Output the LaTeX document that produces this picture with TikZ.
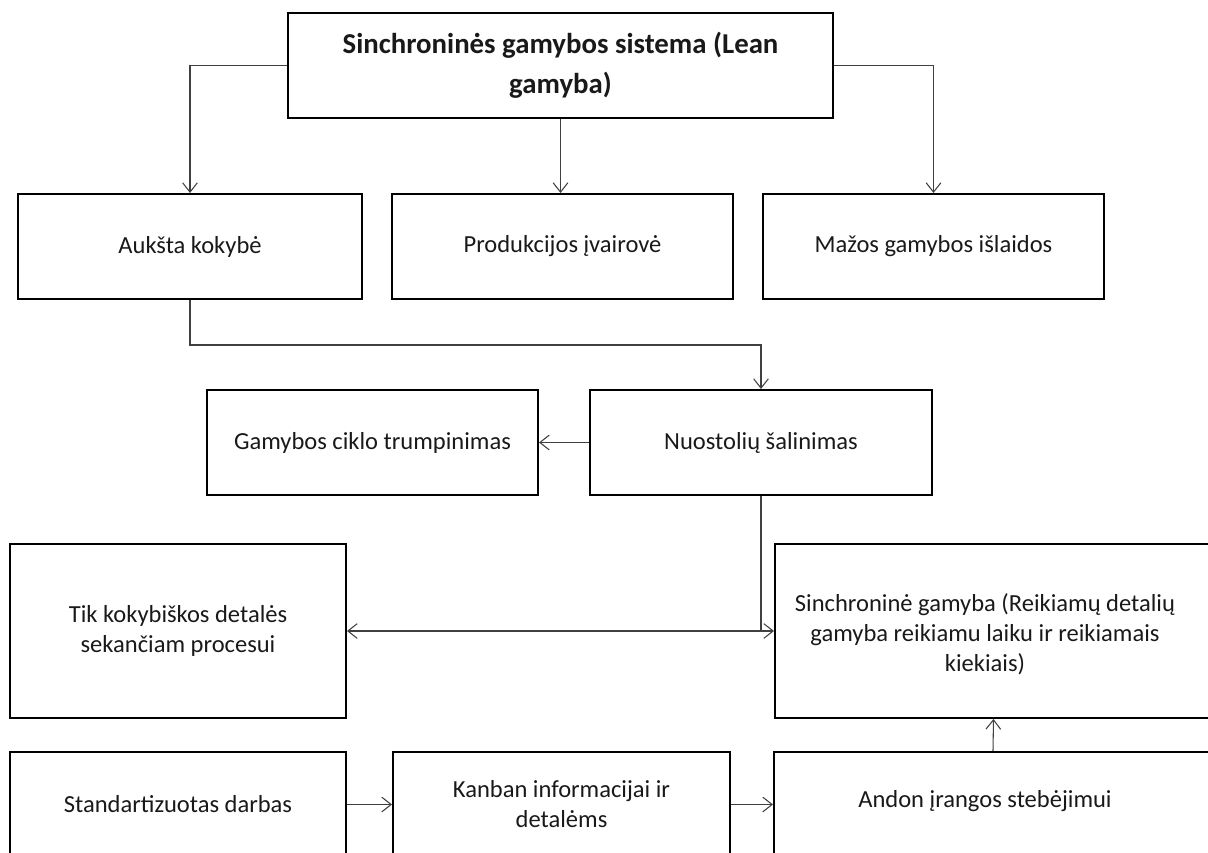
\documentclass[tikz,border=0pt]{standalone}
\usepackage{fontspec}
\setmainfont{Carlito}
\usetikzlibrary{arrows.meta}
\newcommand{\fsz}{\fontsize{18.4}{22.5}\selectfont}
\newcommand{\ftitle}{\fontsize{21.6}{30}\selectfont\bfseries}
\tikzset{
  box/.style={draw=black, line width=1.5pt, rectangle, inner sep=0pt, align=center, font=\fsz, text=black!90},
  lbl/.style={inner sep=0pt, align=center, font=\fsz, text=black!90},
  conn/.style={draw=black!75, line width=0.8pt},
  tip/.tip={Straight Barb[length=7pt,width=11pt,line width=0.8pt]},
  arr/.style={conn, -tip},
}
\begin{document}
\begin{tikzpicture}[x=0.75pt, y=-0.75pt]
\path[use as bounding box] (0,0) rectangle (1208,853);
\clip (0,0) rectangle (1208,853);
% row 1
\node[box, minimum width=408.75pt, minimum height=78.75pt, font=\ftitle] (top) at (560.5,65.5) {Sinchroninės gamybos sistema (Lean\\gamyba)};
% row 2
\node[box, minimum width=258pt, minimum height=78.75pt] (A) at (190,246.5) {Aukšta kokybė};
\node[box, minimum width=255.75pt, minimum height=78.75pt] (B) at (562.5,246.5) {Produkcijos įvairovė};
\node[box, minimum width=255.75pt, minimum height=78.75pt] (C) at (933.5,246.5) {Mažos gamybos išlaidos};
% row 3
\node[box, minimum width=248.25pt, minimum height=78.75pt] (G) at (372.5,442.5) {Gamybos ciklo trumpinimas};
\node[box, minimum width=256.5pt, minimum height=78.75pt] (N) at (761,442.5) {Nuostolių šalinimas};
% row 4
\node[box, minimum width=252pt, minimum height=130.5pt] (T) at (178,631) {Tik kokybiškos detalės\\sekančiam procesui};
\node[box, minimum width=327.75pt, minimum height=130.5pt] (S) at (993.5,631) {};
\node[lbl] (Stxt) at (985,634) {Sinchroninė gamyba (Reikiamų detalių\\gamyba reikiamu laiku ir reikiamais\\kiekiais)};
% row 5
\node[box, minimum width=252pt, minimum height=78.75pt] (Std) at (178,804.5) {Standartizuotas darbas};
\node[box, minimum width=252.75pt, minimum height=78.75pt] (K) at (561.5,804.5) {Kanban informacijai ir\\detalėms};
\node[box, minimum width=328.5pt, minimum height=78.75pt] (An) at (993,804.5) {};
\node[lbl] (Antxt) at (985,801) {Andon įrangos stebėjimui};
% connectors
\draw[arr] (top.west) -| (A.north);
\draw[arr] (top.south) -- (top.south |- B.north);
\draw[arr] (top.east) -| (C.north);
\draw[arr] (A.south) -- ++(0,45) -| (N.north);
\draw[arr] (N.west) -- (G.east);
\coordinate (J) at (N.south |- T.east);
\draw[conn] (N.south) -- (J);
\draw[conn, tip-tip] (T.east) -- (S.west);
\draw[arr] (An.north) -- (S.south);
\draw[arr] (Std.east) -- (K.west);
\draw[arr] (K.east) -- (An.west);
\end{tikzpicture}
\end{document}
